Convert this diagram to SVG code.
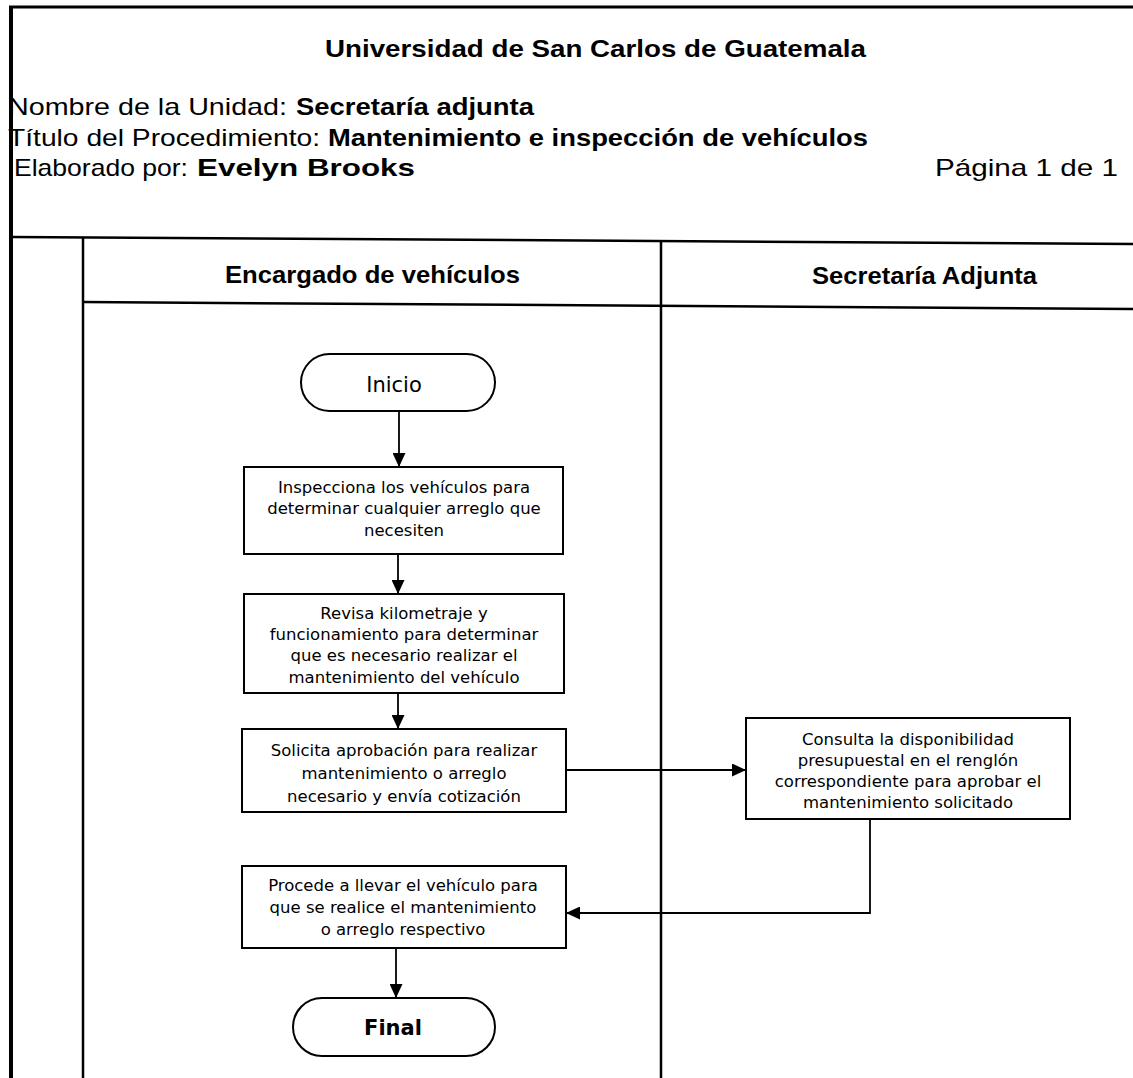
<svg xmlns="http://www.w3.org/2000/svg" width="1133" height="1078" viewBox="0 0 1133 1078">
  <style>
    .hdr { font-family: "Liberation Sans", Arial, sans-serif; fill: #000; font-size: 24px; }
    .b { font-weight: bold; }
    .box { fill: #fff; stroke: #000; stroke-width: 2; }
    .lane { stroke: #000; stroke-width: 2.5; fill: none; }
    .txt { font-family: "DejaVu Sans", Tahoma, sans-serif; font-size: 16.5px; fill: #000; text-anchor: middle; }
    .term { font-family: "DejaVu Sans", Tahoma, sans-serif; font-size: 21px; fill: #000; text-anchor: middle; }
    .conn { stroke: #000; stroke-width: 1.8; fill: none; }
  </style>
  <defs>
    <marker id="arrow" markerWidth="14" markerHeight="13" refX="14" refY="6.5" orient="auto" markerUnits="userSpaceOnUse">
      <path d="M0,0 L14,6.5 L0,13 z" fill="#000"/>
    </marker>
  </defs>

  <rect width="1133" height="1078" fill="#fff"/>

  <!-- page frame -->
  <line x1="9" y1="7" x2="1133" y2="7" stroke="#000" stroke-width="3"/>
  <line x1="11" y1="6" x2="11" y2="1078" stroke="#000" stroke-width="4"/>

  <!-- document header -->
  <text class="hdr b" x="325" y="57" font-size="25" textLength="541" lengthAdjust="spacingAndGlyphs">Universidad de San Carlos de Guatemala</text>
  <text class="hdr" x="8" y="115" textLength="279" lengthAdjust="spacingAndGlyphs">Nombre de la Unidad:</text>
  <text class="hdr b" x="296" y="115" textLength="238" lengthAdjust="spacingAndGlyphs">Secretaría adjunta</text>
  <text class="hdr" x="8" y="146" textLength="312" lengthAdjust="spacingAndGlyphs">Título del Procedimiento:</text>
  <text class="hdr b" x="328" y="146" textLength="540" lengthAdjust="spacingAndGlyphs">Mantenimiento e inspección de vehículos</text>
  <text class="hdr" x="14" y="176" textLength="174" lengthAdjust="spacingAndGlyphs">Elaborado por:</text>
  <text class="hdr b" x="197" y="176" textLength="218" lengthAdjust="spacingAndGlyphs">Evelyn Brooks</text>
  <text class="hdr" x="935" y="176" textLength="183" lengthAdjust="spacingAndGlyphs">Página 1 de 1</text>

  <!-- swimlane grid -->
  <line class="lane" x1="11" y1="237" x2="1133" y2="244"/>
  <line class="lane" x1="83" y1="302" x2="1133" y2="309"/>
  <line class="lane" x1="83" y1="237" x2="83" y2="1078"/>
  <line class="lane" x1="661" y1="240" x2="661" y2="1078"/>
  <text class="hdr b" x="225" y="283" font-size="23" textLength="295" lengthAdjust="spacingAndGlyphs">Encargado de vehículos</text>
  <text class="hdr b" x="812" y="284" font-size="23" textLength="225" lengthAdjust="spacingAndGlyphs">Secretaría Adjunta</text>

  <!-- connectors -->
  <g id="connectors">
    <line class="conn" x1="399" y1="411" x2="399" y2="467" marker-end="url(#arrow)"/>
    <line class="conn" x1="398" y1="554" x2="398" y2="594" marker-end="url(#arrow)"/>
    <line class="conn" x1="398" y1="693" x2="398" y2="729" marker-end="url(#arrow)"/>
    <line class="conn" x1="566" y1="770" x2="746" y2="770" marker-end="url(#arrow)"/>
    <polyline class="conn" points="870,819 870,913 566,913" marker-end="url(#arrow)"/>
    <line class="conn" x1="396" y1="948" x2="396" y2="998" marker-end="url(#arrow)"/>
  </g>

  <g id="inicio">
    <rect class="box" x="301" y="354" width="194" height="57" rx="28.5"/>
    <text class="term" x="394" y="392">Inicio</text>
  </g>

  <g id="inspecciona">
    <rect class="box" x="244" y="467" width="319" height="87"/>
    <text class="txt" x="404" y="493">Inspecciona los vehículos para</text>
    <text class="txt" x="404" y="514">determinar cualquier arreglo que</text>
    <text class="txt" x="404" y="536">necesiten</text>
  </g>

  <g id="revisa">
    <rect class="box" x="244" y="594" width="320" height="99"/>
    <text class="txt" x="404" y="619">Revisa kilometraje y</text>
    <text class="txt" x="404" y="640">funcionamiento para determinar</text>
    <text class="txt" x="404" y="661">que es necesario realizar el</text>
    <text class="txt" x="404" y="683">mantenimiento del vehículo</text>
  </g>

  <g id="solicita">
    <rect class="box" x="242" y="729" width="324" height="83"/>
    <text class="txt" x="404" y="756">Solicita aprobación para realizar</text>
    <text class="txt" x="404" y="779">mantenimiento o arreglo</text>
    <text class="txt" x="404" y="802">necesario y envía cotización</text>
  </g>

  <g id="consulta">
    <rect class="box" x="746" y="718" width="324" height="101"/>
    <text class="txt" x="908" y="745">Consulta la disponibilidad</text>
    <text class="txt" x="908" y="766">presupuestal en el renglón</text>
    <text class="txt" x="908" y="787">correspondiente para aprobar el</text>
    <text class="txt" x="908" y="808">mantenimiento solicitado</text>
  </g>

  <g id="procede">
    <rect class="box" x="242" y="866" width="324" height="82"/>
    <text class="txt" x="403" y="891">Procede a llevar el vehículo para</text>
    <text class="txt" x="403" y="913">que se realice el mantenimiento</text>
    <text class="txt" x="403" y="935">o arreglo respectivo</text>
  </g>

  <g id="final">
    <rect class="box" x="293" y="998" width="202" height="58" rx="29"/>
    <text class="term" x="393" y="1035" font-weight="bold">Final</text>
  </g>
</svg>
